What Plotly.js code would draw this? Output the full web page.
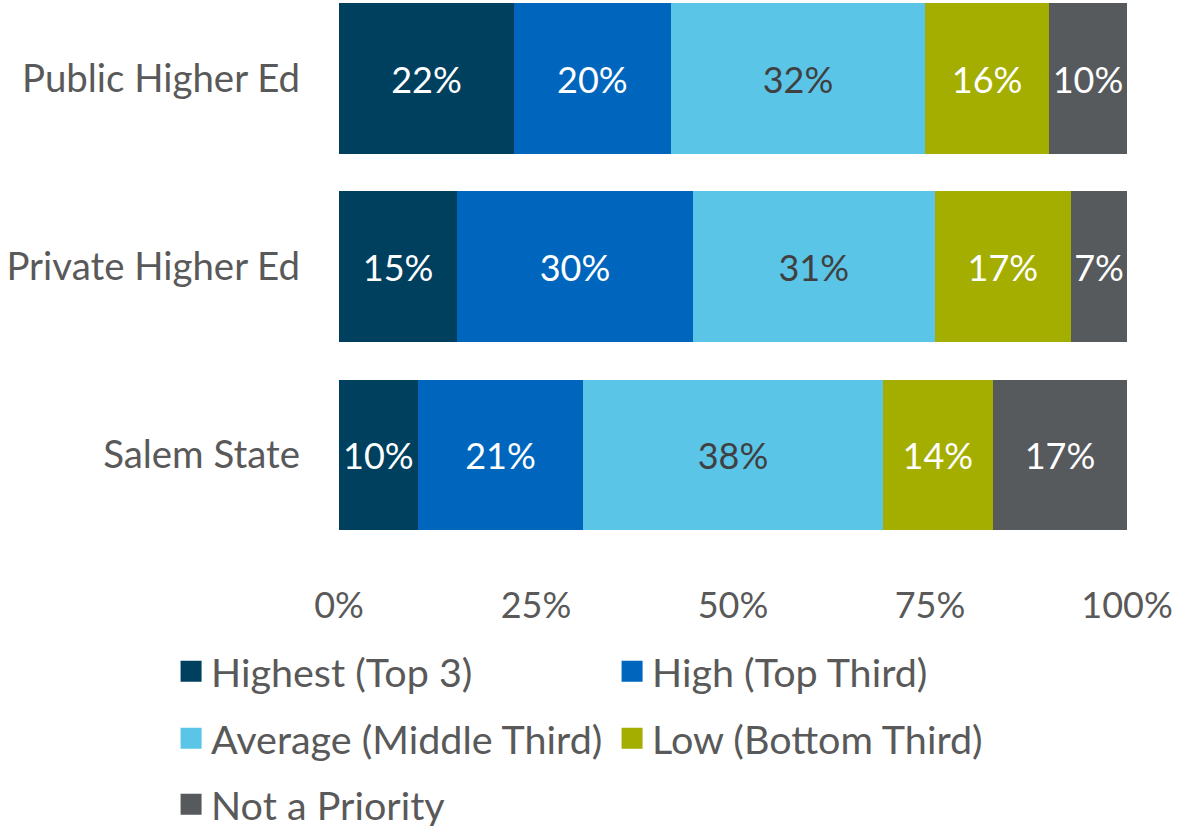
<!DOCTYPE html>
<html>
<head>
<meta charset="utf-8">
<script src="https://cdn.plot.ly/plotly-3.0.1.min.js"></script>
<style>
  html, body { margin: 0; padding: 0; background: #fff; }
  #chart { width: 1179px; height: 826px; }
</style>
</head>
<body>
<div id="chart"></div>
<script>
// categories, bottom to top
const groups = ['Salem State', 'Private Higher Ed', 'Public Higher Ed'];

// share of respondents per priority level
const highest = [10.0, 15.0, 22.2];
const high = [21.0, 29.9, 19.9];
const average = [38.0, 30.7, 32.3];
const low = [14.0, 17.3, 15.7];
const notPriority = [17.0, 7.1, 9.9];

// labels printed on the bars
const highestLbl = ['10%', '15%', '22%'];
const highLbl = ['21%', '30%', '20%'];
const averageLbl = ['38%', '31%', '32%'];
const lowLbl = ['14%', '17%', '16%'];
const notPriorityLbl = ['17%', '7%', '10%'];

const tickVals = [0, 25, 50, 75, 100];
const tickText = ['0%', '25%', '50%', '75%', '100%'];

const FONT = 'Lato, "Open Sans", sans-serif';
const GREY = '#595959';

const data = [];

function series(name, values, labels, color, textColor, legendId) {
    data.push({
        type: 'bar',
        orientation: 'h',
        name: name,
        y: groups,
        x: values,
        text: labels,
        textposition: 'inside',
        insidetextanchor: 'middle',
        textfont: { family: FONT, size: 36, color: textColor },
        marker: { color: color, line: { width: 0 } },
        hoverinfo: 'name+x',
        legendgroup: name,
        showlegend: false
    });
    // legend-only twin so the legend swatch can be a larger square
    data.push({
        type: 'scatter',
        mode: 'markers',
        name: name,
        x: [null],
        y: [null],
        marker: { symbol: 'square', size: 16, color: color, line: { width: 5, color: color } },
        legendgroup: name,
        legend: legendId
    });
}

series('Highest (Top 3)', highest, highestLbl, '#00405f', '#ffffff', 'legend');
series('High (Top Third)', high, highLbl, '#0066bd', '#ffffff', 'legend');
series('Average (Middle Third)', average, averageLbl, '#5bc5e8', '#404040', 'legend2');
series('Low (Bottom Third)', low, lowLbl, '#a4ae00', '#ffffff', 'legend2');
series('Not a Priority', notPriority, notPriorityLbl, '#575a5d', '#ffffff', 'legend3');

const legendBase = {
    orientation: 'h',
    x: -0.2131,
    xanchor: 'left',
    yanchor: 'top',
    entrywidth: 396,
    entrywidthmode: 'pixels',
    traceorder: 'normal',
    font: { family: FONT, size: 39.5, color: GREY },
    bgcolor: 'rgba(0,0,0,0)'
};

const layout = {
    width: 1179,
    height: 826,
    margin: { l: 339, r: 52, t: 0, b: 266 },
    paper_bgcolor: '#ffffff',
    plot_bgcolor: '#ffffff',
    barmode: 'stack',
    bargap: 0.2,
    uniformtext: { mode: 'hide', minsize: 20 },
    font: { family: FONT, size: 36, color: GREY },
    xaxis: {
        range: [0, 100],
        tickvals: tickVals,
        ticktext: tickText,
        showgrid: false,
        zeroline: false,
        showline: false,
        ticks: '',
        ticklabelstandoff: 21,
        fixedrange: true
    },
    yaxis: {
        type: 'category',
        range: [-0.5585, 2.4176],
        showgrid: false,
        zeroline: false,
        showline: false,
        ticks: '',
        tickfont: { family: FONT, size: 38.4, color: GREY },
        ticklabelstandoff: 38,
        fixedrange: true
    },
    showlegend: true,
    legend: Object.assign({}, legendBase, { yref: 'paper', y: -0.1411 }),
    legend2: Object.assign({}, legendBase, { yref: 'paper', y: -0.2607 }),
    legend3: Object.assign({}, legendBase, { yref: 'container', y: 0.0654 })
};

Plotly.newPlot('chart', data, layout, { displayModeBar: false, staticPlot: true });
</script>
</body>
</html>
